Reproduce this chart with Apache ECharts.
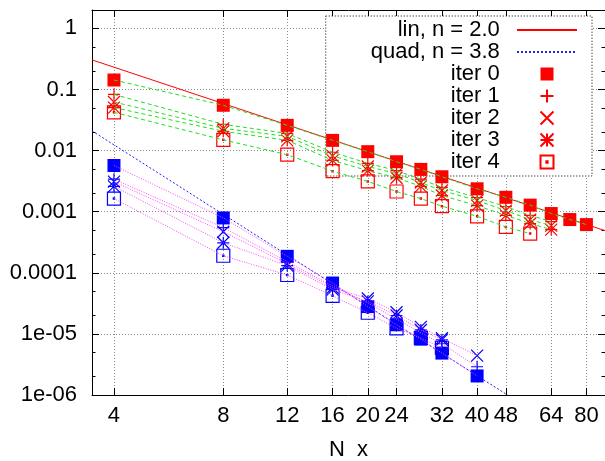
<!DOCTYPE html>
<html>
<head>
<meta charset="utf-8">
<script src="https://cdn.jsdelivr.net/npm/echarts@6/dist/echarts.min.js"></script>
<style>
html,body{margin:0;padding:0;background:#fff}
#chart{width:605px;height:461px}
</style>
</head>
<body>
<div id="chart"></div>
<script>
// x positions of the runs
var xsRed  = [4, 8, 12, 16, 20, 24, 28, 32, 40, 48, 56, 64, 72, 80];
var xsBlue = [4, 8, 12, 16, 20, 24, 28, 32, 40];

// red group (upper), iter 0..4
var red0 = [0.143, 0.0552, 0.0259, 0.0147, 0.0096, 0.00657, 0.00492, 0.00373, 0.00237, 0.00172, 0.00128, 0.000933, 0.000744, 0.000615];
var red1 = [0.083, 0.0269, 0.0191, 0.0094, 0.0062, 0.0047, 0.0034, 0.0025, 0.0017, 0.00121, 0.00087, 0.00069];
var red2 = [0.0625, 0.0231, 0.0171, 0.0082, 0.0055, 0.0042, 0.0030, 0.00222, 0.00152, 0.00104, 0.00074, 0.00059];
var red3 = [0.0506, 0.0207, 0.0147, 0.0069, 0.0047, 0.0036, 0.0026, 0.00184, 0.00126, 0.00087, 0.00064, 0.00051];
var red4 = [0.0423, 0.0150, 0.00857, 0.00461, 0.00313, 0.00214, 0.00164, 0.00123, 0.00084, 0.000564, 0.000438];

// blue group (lower), iter 0..4
var blue0 = [0.0057, 0.00079, 0.000186, 6.8e-5, 2.8e-5, 1.41e-5, 8.2e-6, 4.85e-6, 2.05e-6];
var blue1 = [0.0034, 0.00055, 0.000152, 6.1e-5, 3.2e-5, 1.75e-5, 1.04e-5, 6.9e-6, 2.9e-6];
var blue2 = [0.0031, 0.00047, 0.000141, 5.7e-5, 3.8e-5, 2.26e-5, 1.3e-5, 8.5e-6, 4.4e-6];
var blue3 = [0.0026, 0.00031, 0.000131, 5.3e-5, 3.4e-5, 2.0e-5, 1.16e-5, 8.0e-6];
var blue4 = [0.00164, 0.00019, 9.2e-5, 4.2e-5, 2.22e-5, 1.23e-5, 8.6e-6, 5.9e-6];

// fitted power laws, end points of the drawn segments
var linFit  = [[3.48, 0.305], [90, 0.00049]];
var quadFit = [[3.48, 0.021], [48.5, 1.0e-6]];

// ticks
var xTicks = [4, 8, 12, 16, 20, 24, 32, 40, 48, 64, 80];
var yTicks = [1e-6, 1e-5, 1e-4, 1e-3, 1e-2, 1e-1, 1];
var yTickLabels = ['1e-06', '1e-05', '0.0001', '0.001', '0.01', '0.1', '1'];
var yMinor = [2e-6, 5e-6, 2e-5, 5e-5, 2e-4, 5e-4, 2e-3, 5e-3, 2e-2, 5e-2, 0.2, 0.5];

var FONT = 'Liberation Sans';
var SYM_BOX    = 'path://M0,0L10,0L10,10L0,10Z';
var SYM_PLUS   = 'path://M5,0L5,10M0,5L10,5';
var SYM_CROSS  = 'path://M0,0L10,10M10,0L0,10';
var SYM_STAR   = 'path://M5,0L5,10M0,5L10,5M0,0L10,10M10,0L0,10';
var SYM_BOXDOT = 'path://M0,0L10,0L10,10L0,10ZM4.5,4.5L5.5,4.5L5.5,5.5L4.5,5.5Z';

function pair(xs, ys){
    var out = [];
    for (var i = 0; i < ys.length; i++) out.push([xs[i], ys[i]]);
    return out;
}

function yLabel(v){
    for (var i = 0; i < yTicks.length; i++) {
        if (Math.abs(Math.log10(v) - Math.log10(yTicks[i])) < 1e-6) return yTickLabels[i];
    }
    return '';
}

var redSets  = [red0, red1, red2, red3, red4];
var blueSets = [blue0, blue1, blue2, blue3, blue4];
var symbols  = [SYM_BOX, SYM_PLUS, SYM_CROSS, SYM_STAR, SYM_BOXDOT];
var symSizes = [13, 12, 12, 12, 13];

function pointStyle(k, color){
    if (k == 0) return { color: color, opacity: 1 };
    return { color: 'none', borderColor: color, borderWidth: 1.2, opacity: 1 };
}

var series = [
    {
        name: 'lin, n = 2.0', type: 'line', data: linFit, symbol: 'none', z: 3,
        lineStyle: { color: '#ff0000', width: 1 }, itemStyle: { color: '#ff0000' }
    },
    {
        name: 'quad, n = 3.8', type: 'line', data: quadFit, symbol: 'none', z: 3,
        lineStyle: { color: '#2020ff', width: 1, type: [2, 2] }, itemStyle: { color: '#2020ff' }
    }
];

for (var k = 0; k < 5; k++) {
    series.push({
        name: 'iter ' + k, type: 'scatter', data: pair(xsRed, redSets[k]), z: 4,
        symbol: symbols[k], symbolSize: symSizes[k], symbolKeepAspect: true,
        itemStyle: pointStyle(k, '#ff0000')
    });
    series.push({
        name: 'b' + k, type: 'scatter', data: pair(xsBlue, blueSets[k]), z: 4,
        symbol: symbols[k], symbolSize: symSizes[k], symbolKeepAspect: true,
        itemStyle: pointStyle(k, '#0000ff')
    });
}
for (var k = 0; k < 5; k++) {
    series.push({
        name: 'g' + k, type: 'line', data: pair(xsRed, redSets[k]), symbol: 'none', z: 5,
        lineStyle: { color: '#1ee01e', width: 1, type: [4, 3] }
    });
    series.push({
        name: 'm' + k, type: 'line', data: pair(xsBlue, blueSets[k]), symbol: 'none', z: 5,
        lineStyle: { color: '#ff44ff', width: 1, type: [1, 1.5] }
    });
}

var labelFont = { fontFamily: FONT, fontSize: 22, color: '#000' };
var gridLine = { show: true, lineStyle: { color: '#8a8a8a', width: 1, type: [1, 2] } };

function xAxisOf(pos, main){
    return {
        type: 'log', logBase: 10, min: 3.48, max: 90, position: pos,
        name: main ? 'N  x' : '', nameLocation: 'middle', nameGap: 44,
        nameTextStyle: labelFont,
        axisLine: { show: true, lineStyle: { color: '#000', width: 1 } },
        axisTick: { show: true, inside: true, length: 7, customValues: xTicks, lineStyle: { color: '#000' } },
        axisLabel: main ? Object.assign({ show: true, margin: 10, customValues: xTicks }, labelFont) : { show: false },
        splitLine: main ? gridLine : { show: false },
        minorTick: { show: false }
    };
}

function yAxisOf(pos, main, minor){
    return {
        type: 'log', logBase: 10, min: 1e-6, max: 2, position: pos,
        axisLine: { show: !minor, lineStyle: { color: '#000', width: 1 } },
        axisTick: { show: true, inside: true, length: minor ? 3.5 : 7, customValues: minor ? yMinor : yTicks, lineStyle: { color: '#000' } },
        axisLabel: (main && !minor) ? Object.assign({ show: true, margin: 15, customValues: yTicks, formatter: yLabel }, labelFont) : { show: false },
        splitLine: (main && !minor) ? gridLine : { show: false }
    };
}

var lineKey = { opacity: 0 };
var chart = echarts.init(document.getElementById('chart'), null, { renderer: 'canvas' });
chart.setOption({
    animation: false,
    backgroundColor: '#fff',
    grid: { left: 92, right: 0, top: 10, bottom: 66, containLabel: false, outerBoundsMode: 'none' },
    legend: {
        data: [
            { name: 'lin, n = 2.0', itemStyle: lineKey },
            { name: 'quad, n = 3.8', itemStyle: lineKey },
            'iter 0', 'iter 1', 'iter 2', 'iter 3', 'iter 4'
        ],
        orient: 'vertical', align: 'right', right: 13, top: 16,
        itemWidth: 60, itemHeight: 13, itemGap: 0,
        padding: [3, 14, 3, 45],
        backgroundColor: '#fff', borderColor: '#000', borderWidth: 1, borderType: [1, 2],
        textStyle: { fontFamily: FONT, fontSize: 22, color: '#000', lineHeight: 22 },
        formatter: function(name){ return name + '  '; },
        selectedMode: false, z: 1
    },
    tooltip: { show: false },
    xAxis: [xAxisOf('bottom', true), xAxisOf('top', false)],
    yAxis: [yAxisOf('left', true, false), yAxisOf('left', false, true), yAxisOf('right', false, false), yAxisOf('right', false, true)],
    series: series.map(function(s){ s.silent = true; s.xAxisIndex = 0; s.yAxisIndex = 0; return s; })
});
</script>
</body>
</html>
